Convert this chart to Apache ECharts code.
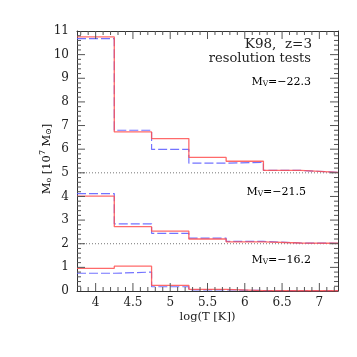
<!DOCTYPE html>
<html><head><meta charset="utf-8">
<script src="https://cdn.jsdelivr.net/npm/echarts@6/dist/echarts.min.js"></script>
<style>html,body{margin:0;padding:0;background:#fff}#c{width:357px;height:357px}</style>
</head><body><div id="c"></div>
<script>
// bin edges in log(T [K])
const binEdges = [3.75, 4.25, 4.75, 5.25, 5.75, 6.25, 6.75, 7.25];
// vertical offsets applied in the plot for each magnitude group
const groupOffsets = [5, 2, 0];
const groupLabels = ['−22.3', '−21.5', '−16.2'];
// gas mass per bin [10^7 Msun], solid red (run A) and dashed blue (run B)
const redMv223  = [5.75, 1.73, 1.45, 0.65, 0.49, 0.10, 0.02];
const blueMv223 = [5.68, 1.80, 0.99, 0.41, 0.44, 0.10, 0.02];
const redMv215  = [2.01, 0.72, 0.53, 0.20, 0.08, 0.03, 0.02];
const blueMv215 = [2.12, 0.84, 0.44, 0.24, 0.10, 0.03, 0.02];
const redMv162  = [0.96, 1.05, 0.24, 0.07, 0.02, 0.01, 0.01];
const blueMv162 = [0.75, 0.80, 0.18, 0.05, 0.02, 0.01, 0.01];
const xTickLabels = ['4', '4.5', '5', '5.5', '6', '6.5', '7'];

const XMIN = 3.75, XMAX = 7.25, XSTEP = 0.05, YMIN = 0, YMAX = 11;
const GRID = {left: 77, right: 19, top: 31, bottom: 66};
const tickCats = [];
for (let i = 0; i <= Math.round((XMAX - XMIN) / XSTEP); i++) tickCats.push(String(Math.round((XMIN + XSTEP * i) * 100) / 100));
const isMajor = (i) => xTickLabels.indexOf(tickCats[i]) >= 0;

function stepData(vals, off) {
  const d = vals.map((v, i) => [binEdges[i], v + off]);
  d.push([binEdges[binEdges.length - 1], vals[vals.length - 1] + off]);
  return d;
}
const FONT = 'DejaVu Serif';
const RED = 'rgba(255,80,80,0.85)', BLUE = 'rgba(90,90,255,0.85)';
const TICKC = '#555';
const series = [];
const groups = [[redMv223, blueMv223], [redMv215, blueMv215], [redMv162, blueMv162]];
groups.forEach((g, k) => {
  series.push({type: 'line', step: 'end', symbol: 'none', silent: true, animation: false,
    data: stepData(g[1], groupOffsets[k]), lineStyle: {color: BLUE, width: 1.2, type: [9, 3]}, z: 3});
  series.push({type: 'line', step: 'end', symbol: 'none', silent: true, animation: false,
    data: stepData(g[0], groupOffsets[k]), lineStyle: {color: RED, width: 1.3}, z: 4});
});
[5, 2].forEach(y => {
  series.push({type: 'line', symbol: 'none', silent: true, animation: false,
    data: [[XMIN, y], [XMAX, y]],
    lineStyle: {color: '#777', width: 1, type: [1, 2]}, z: 2});
});
// inside tick marks on all four sides, drawn as short segments in data space
const plotW = 357 - GRID.left - GRID.right, plotH = 357 - GRID.top - GRID.bottom;
const dxPerPx = (XMAX - XMIN) / plotW, dyPerPx = (YMAX - YMIN) / plotH;
function seg(a, b) {
  series.push({type: 'line', symbol: 'none', silent: true, animation: false, z: 6,
    data: [a, b], lineStyle: {color: TICKC, width: 1}});
}
for (let k = 38; k <= 72; k++) {
  const v = k / 10, len = ((k % 5 === 0) ? 8 : 4) * dyPerPx;
  seg([v, YMIN], [v, YMIN + len]);
  seg([v, YMAX], [v, YMAX - len]);
}
for (let k = 1; k < 55; k++) {
  const v = k / 5, len = ((k % 5 === 0) ? 8 : 4) * dxPerPx;
  seg([XMIN, v], [XMIN + len, v]);
  seg([XMAX, v], [XMAX - len, v]);
}

function catAx(pos, withLabel) {
  return {type: 'category', position: pos, data: tickCats, boundaryGap: false,
    axisLine: {show: true, onZero: false, lineStyle: {color: '#333', width: 1}},
    splitLine: {show: false}, axisTick: {show: false},
    axisLabel: withLabel ? {show: true, interval: (i) => isMajor(i), margin: 6,
      fontFamily: FONT, fontSize: 12, color: '#222'} : {show: false}};
}
function yAx(pos, showLabel) {
  return {type: 'value', position: pos, min: YMIN, max: YMAX, interval: 1,
    axisLine: {show: true, onZero: false, lineStyle: {color: '#333', width: 1}},
    splitLine: {show: false}, axisTick: {show: false}, minorTick: {show: false},
    axisLabel: showLabel ? {show: true, margin: 8, fontFamily: FONT, fontSize: 12, color: '#222'} : {show: false}};
}

function richFor(size) {
  return {
    m: {fontFamily: FONT, fontSize: size, color: '#222', verticalAlign: 'bottom', lineHeight: size + 3},
    s: {fontFamily: FONT, fontSize: size * 0.68, color: '#222', verticalAlign: 'bottom', lineHeight: 6},
    p: {fontFamily: FONT, fontSize: size * 0.68, color: '#222', verticalAlign: 'top', lineHeight: 6}
  };
}
const mvPos = [[311, 81], [306, 191], [311, 259]];
const graphics = [
  {type: 'text', right: 45, top: 37, style: {text: 'K98,  z=3', font: '13.5px "DejaVu Serif"', fill: '#222'}},
  {type: 'text', right: 46, top: 52, style: {text: 'resolution tests', font: '13px "DejaVu Serif"', fill: '#222'}},
  {type: 'text', x: 207.5, y: 317, style: {text: 'log(T [K])', font: '11.5px "DejaVu Serif"', fill: '#222', align: 'center', verticalAlign: 'middle'}},
  {type: 'text', x: 46, y: 159, rotation: Math.PI / 2,
    style: {text: '{m|M}{s|o}{m| [10}{p|7}{m| M}{s|⊙}{m|]}', rich: richFor(11.5), align: 'center', verticalAlign: 'middle'}}
];
groupLabels.forEach((lab, k) => {
  graphics.push({type: 'text', x: mvPos[k][0], y: mvPos[k][1],
    style: {text: '{m|M}{s|V}{m|=' + lab + '}', rich: richFor(11), align: 'right', verticalAlign: 'middle'}});
});

const chart = echarts.init(document.getElementById('c'));
chart.setOption({
  animation: false,
  backgroundColor: '#fff',
  grid: GRID,
  xAxis: [
    {type: 'value', min: XMIN, max: XMAX, show: false},
    catAx('bottom', true), catAx('top', false)
  ],
  yAxis: [yAx('left', true), yAx('right', false)],
  series: series.map(s => Object.assign(s, {xAxisIndex: 0, yAxisIndex: 0})),
  graphic: graphics
});
</script></body></html>
